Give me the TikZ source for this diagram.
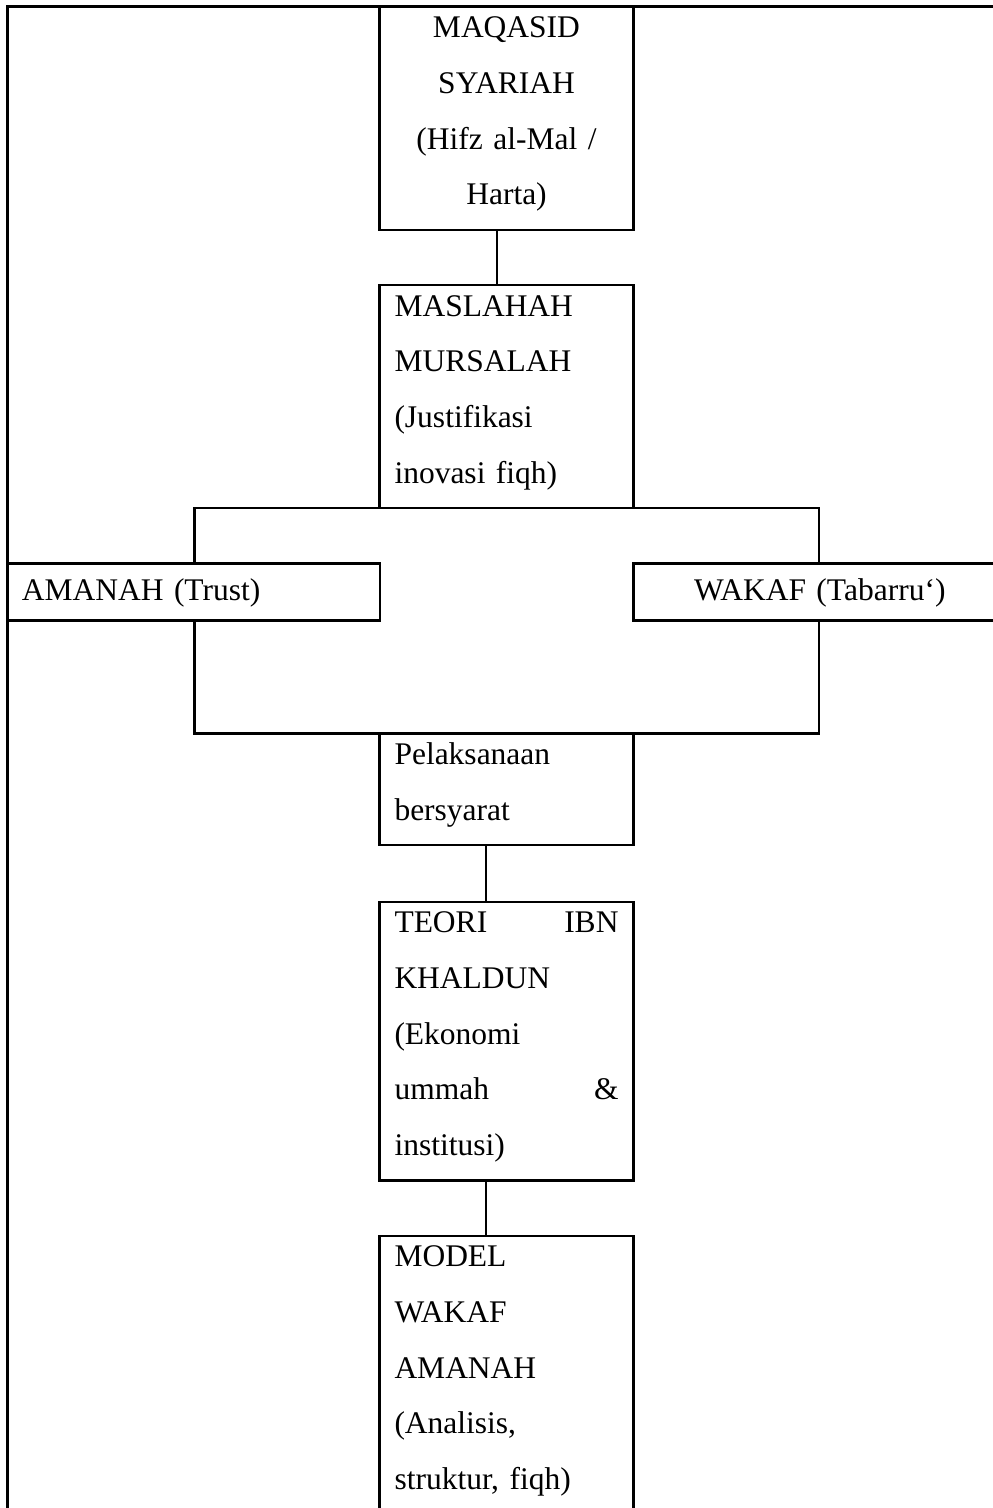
\documentclass[tikz,border=0pt]{standalone}
\usepackage{fontspec}
\setmainfont{Liberation Serif}
\newcommand{\ats}{\rule{0pt}{31pt}}
\newcommand{\bwh}{\rule[-25pt]{0pt}{25pt}}

\begin{document}
\begin{tikzpicture}[x=1pt,y=-1pt,
  kotak/.style={draw,line width=2.4pt,outer sep=0pt,anchor=north west,inner xsep=15pt,inner ysep=0pt,text width=224pt,align=left,font=\fontsize{31.5}{55.7}\selectfont},
  kotaksatu/.style={draw,line width=2.4pt,outer sep=0pt,anchor=north west,inner xsep=14.5pt,inner ysep=0pt,text width=343.5pt,text height=37pt,text depth=20pt,font=\fontsize{31.5}{55.7}\selectfont},
  garis/.style={line width=1.1pt}]
\useasboundingbox (0,0) rectangle (993,1508);
\clip (0,0) rectangle (993,1508);

\draw [line width=2.6pt] (1000,6.7) -- (7.3,6.7) -- (7.3,1520);

\node [kotak,align=center] (maqasid) at (379.5,6.7) {\ats MAQASID\\SYARIAH\\(Hifz al-Mal /\\Harta)\bwh};
\node [kotak] (maslahah) at (379.5,285) {\ats MASLAHAH\\MURSALAH\\(Justifikasi\\inovasi fiqh)\bwh};
\draw [garis] (497,0 |- maqasid.south) -- (497,0 |- maslahah.north);

\node [kotaksatu,align=left] (amanah) at (7.3,563.5) {AMANAH (Trust)};
\node [kotaksatu,align=center] (wakaf) at (633.5,563.5) {WAKAF (Tabarru‘)};

\node [kotak] (pelaksanaan) at (379.5,733.3) {\ats Pelaksanaan\\bersyarat\bwh};

\draw [line width=2.4pt] (194.5,0 |- amanah.north) -- (194.5,0 |- maslahah.south) -- (819,0 |- maslahah.south) -- (819,0 |- wakaf.north);
\draw [line width=2.4pt] (194.5,0 |- amanah.south) -- (194.5,0 |- pelaksanaan.north) -- (819,0 |- pelaksanaan.north) -- (819,0 |- wakaf.south);

\node [kotak] (teori) at (379.5,901.7) {\ats TEORI\hfill IBN\\KHALDUN\\(Ekonomi\\ummah\hfill \&\\institusi)\bwh};
\draw [garis] (486,0 |- pelaksanaan.south) -- (486,0 |- teori.north);

\node [kotak] (model) at (379.5,1235.7) {\ats MODEL\\WAKAF\\AMANAH\\(Analisis,\\struktur, fiqh)\bwh};
\draw [garis] (486,0 |- teori.south) -- (486,0 |- model.north);
\end{tikzpicture}
\end{document}
